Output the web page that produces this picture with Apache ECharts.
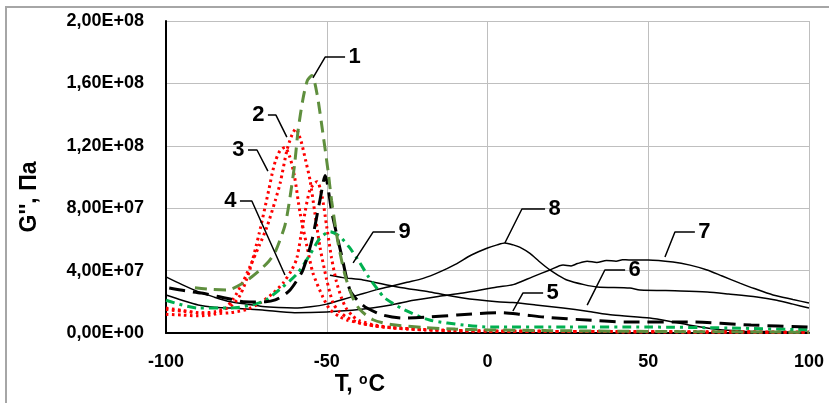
<!DOCTYPE html>
<html>
<head>
<meta charset="utf-8">
<style>
html, body { margin: 0; padding: 0; background: #fff; }
#chart { width: 829px; height: 403px; }
</style>
<script src="https://cdn.jsdelivr.net/npm/echarts@6/dist/echarts.min.js"></script>
</head>
<body>
<div id="chart"></div>
<script>
// G'' в единицах 1e7 Па, T в °C
const t1 = [-91, -86, -81, -76, -71, -68, -66, -63, -61.5, -60, -58.9, -57.4, -56, -54.6, -53, -51.2, -49.6, -48.5, -46.5, -44.3, -42, -39.7, -35.6, -30, -20, -10, 0, 20, 50, 100]
const g1 = [2.9, 2.8, 2.76, 3.2, 4.0, 4.6, 5.2, 6.9, 8.6, 10.8, 13.0, 15.0, 16.2, 16.5, 15.3, 12.8, 10.4, 8.5, 5.8, 3.7, 2.3, 1.5, 0.85, 0.55, 0.35, 0.25, 0.2, 0.15, 0.1, 0.05]

const t2 = [-100, -95, -90, -85, -82, -79, -76, -74, -71, -68.6, -66, -64.5, -62.4, -61, -59.6, -58, -56.5, -55.2, -53.7, -52.1, -50, -48, -46, -43.7, -40, -35, -30, -20, -10, 0, 25, 50, 75, 100]
const g2 = [1.2, 1.15, 1.1, 1.2, 1.5, 2.2, 3.3, 4.2, 5.6, 6.8, 8.5, 9.6, 11.7, 12.6, 13.1, 12.3, 11.0, 9.8, 7.7, 5.5, 3.4, 1.9, 1.35, 1.0, 0.65, 0.45, 0.33, 0.2, 0.15, 0.12, 0.1, 0.08, 0.06, 0.05]

const t3 = [-100, -95, -90, -85, -80, -77, -74, -71, -68, -67, -66, -64.5, -63, -61.5, -60, -58.3, -56.1, -54.3, -51.2, -49, -46, -43.7, -39.7, -35, -30, -20, -10, 0, 25, 50, 75, 100]
const g3 = [1.5, 1.4, 1.3, 1.35, 1.7, 2.4, 4.0, 6.4, 9.2, 10.2, 11.0, 11.7, 11.9, 11.3, 10.0, 7.7, 5.5, 3.85, 2.3, 1.5, 1.05, 0.83, 0.64, 0.45, 0.35, 0.22, 0.16, 0.12, 0.1, 0.08, 0.06, 0.05]

const t4 = [-100, -95, -90, -85, -80, -75, -70.8, -67, -63.6, -61, -59.3, -57.4, -55.2, -53, -51.5, -50, -48.5, -47, -45.5, -44, -42, -40, -35, -30, -20, -10, 0, 25, 50, 75, 100]
const g4 = [1.6, 1.45, 1.3, 1.25, 1.3, 1.5, 1.92, 2.5, 3.2, 4.0, 4.8, 7.0, 9.2, 9.7, 8.8, 6.8, 4.8, 3.3, 2.3, 1.6, 1.1, 0.8, 0.5, 0.35, 0.22, 0.16, 0.12, 0.1, 0.08, 0.06, 0.05]

const t5 = [-99, -94, -89, -84, -80, -76, -73, -69, -66, -63.5, -61.4, -59.5, -57.4, -54.6, -52.1, -50.5, -48.4, -45.3, -42.8, -40, -37.5, -32.5, -26.3, -18, -9.5, 0, 4, 10, 18.5, 31, 43, 63, 82, 100]
const g5 = [2.88, 2.7, 2.56, 2.35, 2.18, 2.0, 1.99, 2.0, 2.12, 2.4, 2.76, 3.3, 4.04, 5.96, 8.53, 10.1, 7.7, 4.9, 2.76, 2.0, 1.6, 1.15, 0.96, 1.03, 1.15, 1.28, 1.3, 1.2, 1.0, 0.83, 0.71, 0.71, 0.51, 0.38]

const t6 = [-49, -45, -38.7, -28, -18, -7.6, 3, 7.9, 15, 23.5, 31, 39, 50.5, 57.7, 63, 68.3, 73.3, 80, 90, 100]
const g6 = [3.7, 3.55, 3.4, 2.95, 2.63, 2.24, 2.0, 1.95, 1.8, 1.6, 1.4, 1.15, 0.96, 0.71, 0.5, 0.32, 0.19, 0.12, 0.08, 0.05]

const t7 = [-100, -95, -90, -85, -80, -70, -60, -50, -40, -30, -23, -15, -7.6, 3, 8, 14, 19.4, 23.5, 26, 28, 31, 34, 37, 40, 42, 44, 50, 57.7, 63, 68.3, 73, 78.5, 83, 88.8, 95, 100]
const g7 = [2.44, 2.1, 1.8, 1.65, 1.6, 1.47, 1.3, 1.35, 1.5, 1.8, 2.1, 2.35, 2.56, 2.95, 3.1, 3.6, 4.04, 4.36, 4.3, 4.45, 4.6, 4.52, 4.65, 4.6, 4.7, 4.68, 4.68, 4.55, 4.35, 4.04, 3.65, 3.2, 2.85, 2.44, 2.15, 1.92]

const t8 = [-100, -95, -90, -85, -80, -75, -70, -65, -60, -55, -50, -45, -40, -35, -30, -25, -20, -15, -10, -5, 0, 3, 5.4, 8, 10, 13.2, 16, 19.4, 22, 24.7, 30, 34.1, 44.3, 47.4, 60, 68.3, 75, 83.8, 90, 95, 100]
const g8 = [3.6, 3.1, 2.65, 2.3, 2.0, 1.85, 1.7, 1.63, 1.6, 1.68, 1.85, 2.15, 2.45, 2.75, 3.0, 3.25, 3.5, 3.9, 4.4, 5.0, 5.45, 5.65, 5.77, 5.65, 5.5, 5.1, 4.6, 4.04, 3.7, 3.4, 3.1, 2.95, 2.88, 2.76, 2.7, 2.63, 2.5, 2.31, 2.1, 1.85, 1.6]

const t9 = [-100, -90, -80, -70, -64, -59, -55, -52, -49, -46, -43, -40, -37, -34, -32, -26, -18, -7, 1, 25, 50, 75, 100]
const g9 = [2.1, 1.6, 1.6, 2.0, 2.9, 3.85, 5.1, 6.1, 6.5, 6.2, 5.5, 4.6, 3.6, 2.75, 2.25, 1.5, 0.83, 0.5, 0.38, 0.38, 0.38, 0.32, 0.2]

// выноски с номерами кривых: точка на кривой, излом, конец полки
const leaderNames = ['1', '2', '3', '4', '5', '6', '7', '8', '9']
const leaderT = [[-54.3, -50.5, -44.3], [-62.4, -65.8, -68.3], [-68.3, -71.7, -74.5], [-63.0, -73.3, -77.0], [7.9, 11.0, 17.3], [31.0, 36.5, 42.8], [55.2, 58.3, 64.5], [5.4, 10.7, 17.9], [-41.8, -35.6, -28.8]]
const leaderG = [[16.35, 17.69, 17.69], [12.56, 13.97, 13.97], [10.38, 11.73, 11.73], [3.72, 8.46, 8.46], [1.41, 2.56, 2.56], [1.79, 4.04, 4.04], [4.87, 6.47, 6.47], [5.77, 7.95, 7.95], [4.49, 6.47, 6.47]]

const xTicks = [-100, -50, 0, 50, 100]
const yTicks = [0, 4e7, 8e7, 1.2e8, 1.6e8, 2e8]

const FONT = 'Liberation Sans'

function pts(t, g) {
    return t.map((x, i) => [x, g[i] * 1e7])
}

// 2,00E+08
function fmtE(v) {
    const s = v.toExponential(2).split('e')
    let e = s[1]
    const sign = e[0] === '-' ? '-' : '+'
    e = e.replace(/[+-]/, '')
    if (e.length < 2) e = '0' + e
    return s[0].replace('.', ',') + 'E' + sign + e
}

function curve(t, g, color, type, width) {
    return {
        type: 'line',
        data: pts(t, g),
        showSymbol: false,
        symbol: 'none',
        smooth: 0.25,
        lineStyle: { color: color, type: type, width: width, cap: 'butt' },
        z: 2
    }
}

const series = [
    curve(t8, g8, '#000', 'solid', 1.5),
    curve(t7, g7, '#000', 'solid', 1.5),
    curve(t6, g6, '#000', 'solid', 1.5),
    curve(t2, g2, '#ff0000', [2.5, 3.5], 3),
    curve(t3, g3, '#ff0000', [2.5, 3.5], 3),
    curve(t4, g4, '#ff0000', [2.5, 3.5], 3),
    curve(t9, g9, '#00b050', [9, 5, 3, 5], 3),
    curve(t5, g5, '#000', [16, 8], 3),
    curve(t1, g1, '#5f8f3e', [12, 7], 3)
]

leaderNames.forEach((name, i) => {
    const side = (i >= 1 && i <= 3) ? 'left' : 'right'
    const d = pts(leaderT[i], leaderG[i]).map(p => ({ value: p, label: { show: false } }))
    d[2].label = {
        show: true,
        position: side,
        distance: 3,
        formatter: name,
        fontFamily: FONT,
        fontSize: 22,
        fontWeight: 'bold',
        color: '#000'
    }
    series.push({
        type: 'line',
        data: d,
        showSymbol: true,
        symbol: 'circle',
        symbolSize: 1,
        itemStyle: { color: 'rgba(0,0,0,0)' },
        lineStyle: { color: '#000', width: 1.5 },
        z: 5
    })
})

const myChart = echarts.init(document.querySelector('#chart'))
const option = {
    animation: false,
    backgroundColor: '#fff',
    grid: { left: 166, right: 20, top: 21, bottom: 70 },
    xAxis: {
        type: 'value',
        min: xTicks[0],
        max: xTicks[xTicks.length - 1],
        interval: 50,
        axisLine: { show: true, onZero: false, lineStyle: { color: '#000', width: 2 } },
        axisTick: { show: false },
        axisLabel: { margin: 20, fontFamily: FONT, fontSize: 18, fontWeight: 'bold', color: '#000' },
        splitLine: { show: true, lineStyle: { color: '#bfbfbf', width: 1 } }
    },
    yAxis: {
        type: 'value',
        min: yTicks[0],
        max: yTicks[yTicks.length - 1],
        interval: 4e7,
        axisLine: { show: true, onZero: false, lineStyle: { color: '#000', width: 2 } },
        axisTick: { show: false },
        axisLabel: { margin: 22, fontFamily: FONT, fontSize: 18, fontWeight: 'bold', color: '#000', formatter: fmtE },
        splitLine: { show: true, lineStyle: { color: '#bfbfbf', width: 1 } }
    },
    graphic: [
        {
            type: 'rect',
            shape: { x: 6, y: 7, width: 900, height: 500 },
            style: { fill: 'none', stroke: '#a6a6a6', lineWidth: 2 },
            silent: true
        },
        {
            type: 'text',
            x: 30,
            y: 197,
            rotation: Math.PI / 2,
            style: {
                text: "G'', Па",
                font: 'bold 23px ' + FONT,
                fill: '#000',
                textAlign: 'center',
                textVerticalAlign: 'middle'
            }
        },
        {
            type: 'text',
            x: 360,
            y: 385,
            style: {
                text: '{n|T, }{s|o}{n|C}',
                rich: {
                    n: { font: 'bold 23px ' + FONT, fill: '#000' },
                    s: { font: 'bold 14px ' + FONT, fill: '#000', verticalAlign: 'top', padding: [0, 1, 0, 0] }
                },
                textAlign: 'center',
                textVerticalAlign: 'middle'
            }
        }
    ],
    series: series
}
myChart.setOption(option)
</script>
</body>
</html>
